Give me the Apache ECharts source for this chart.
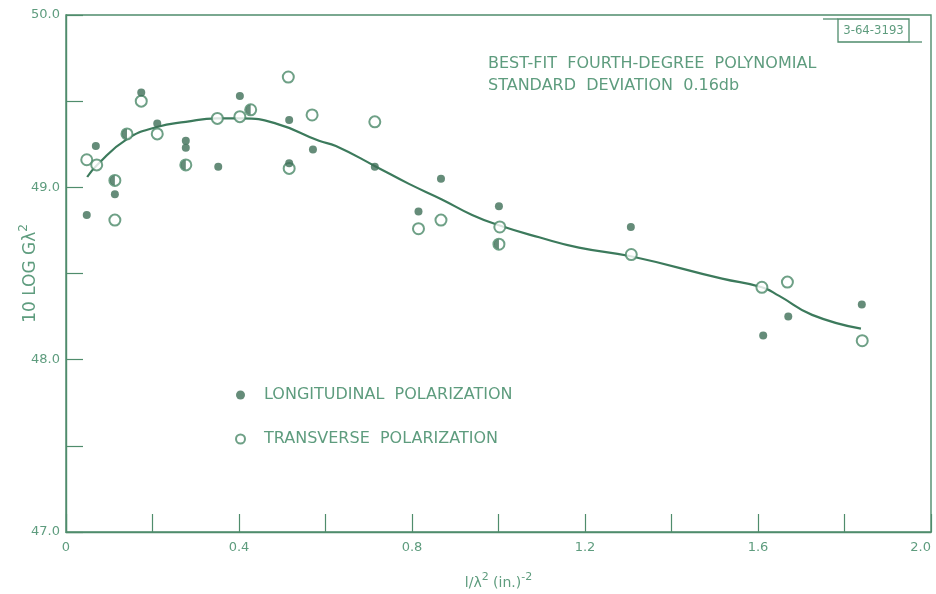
<!DOCTYPE html>
<html>
<head>
<meta charset="utf-8">
<script src="https://cdn.jsdelivr.net/npm/echarts@6/dist/echarts.min.js"></script>
<style>
html,body{margin:0;padding:0;background:#fff;}
#chart{width:936px;height:594px;}
</style>
</head>
<body>
<div id="chart"></div>
<script>
// ---- data ----
const longitudinal = [
  [0.048,48.84],[0.069,49.24],[0.113,48.96],[0.174,49.55],[0.211,49.37],
  [0.277,49.27],[0.277,49.23],[0.352,49.12],[0.402,49.53],[0.516,49.39],
  [0.516,49.14],[0.571,49.22],[0.714,49.12],[0.815,48.86],[0.867,49.05],
  [1.001,48.89],[1.306,48.77],[1.612,48.14],[1.670,48.25],[1.840,48.32]
];
const transverse = [
  [0.048,49.16],[0.071,49.13],[0.113,48.81],[0.174,49.50],[0.211,49.31],
  [0.350,49.40],[0.402,49.41],[0.514,49.64],[0.516,49.11],[0.569,49.42],
  [0.714,49.38],[0.815,48.76],[0.867,48.81],[1.003,48.77],[1.307,48.61],
  [1.609,48.42],[1.668,48.45],[1.841,48.11]
];
// points where both polarizations coincide (half-filled markers)
const coincident = [
  [0.113,49.04],[0.141,49.31],[0.277,49.13],[0.427,49.45],[1.001,48.67]
];
// best-fit fourth-degree polynomial
const fitCurve = [
  [0.049,49.06],[0.072,49.13],[0.141,49.28],[0.210,49.35],[0.277,49.38],
  [0.349,49.40],[0.405,49.40],[0.486,49.37],[0.585,49.27],[0.624,49.24],
  [0.717,49.12],[0.793,49.02],[0.869,48.93],[0.939,48.84],[1.001,48.78],
  [1.094,48.71],[1.186,48.65],[1.306,48.60],[1.517,48.47],[1.609,48.42],
  [1.649,48.37],[1.725,48.26],[1.838,48.18]
];
const xTickLabels = ['0','0.4','0.8','1.2','1.6','2.0'];
const yTickLabels = ['47.0','48.0','49.0','50.0'];
const seriesNames = ['LONGITUDINAL  POLARIZATION','TRANSVERSE  POLARIZATION'];

// ---- styling ----
const AXIS = '#4f8c6c';
const TEXT = '#5e9c7e';
const DOT = '#3f6f58';
const FONT = 'DejaVu Sans';

const chart = echarts.init(document.getElementById('chart'), null, {renderer:'canvas'});
chart.setOption({
  backgroundColor:'#ffffff',
  animation:false,
  grid:{left:66,right:5,top:15,bottom:62,show:true,borderColor:AXIS,borderWidth:1.4,
    backgroundColor:'transparent',containLabel:false,outerBoundsMode:'none'},
  xAxis:{
    type:'value',min:0,max:2.0,interval:0.2,
    name:'l/λ{sup|2} (in.){sup|-2}',nameLocation:'middle',nameGap:40,nameMoveOverlap:false,
    nameTextStyle:{color:TEXT,fontFamily:FONT,fontSize:14,
      rich:{sup:{fontSize:11,verticalAlign:'bottom',padding:[0,0,12,0],color:TEXT,fontFamily:FONT}}},
    axisLine:{lineStyle:{color:AXIS,width:1.4}},
    axisTick:{inside:true,length:18,lineStyle:{color:AXIS,width:1.2}},
    splitLine:{show:false},
    axisLabel:{color:TEXT,fontFamily:FONT,fontSize:13,margin:9,alignMaxLabel:'right',
      formatter:function(v){const s=(Math.round(v*10)/10); const lbl = s===0?'0':s.toFixed(1); return xTickLabels.indexOf(lbl)>=0?lbl:'';}}
  },
  yAxis:{
    type:'value',min:47,max:50,interval:0.5,
    name:'10 LOG Gλ{sup|2}',nameLocation:'middle',nameGap:23,nameRotate:90,nameMoveOverlap:false,
    nameTextStyle:{color:TEXT,fontFamily:FONT,fontSize:17,
      rich:{sup:{fontSize:12,verticalAlign:'bottom',padding:[0,0,13,0],color:TEXT,fontFamily:FONT}}},
    axisLine:{show:true,lineStyle:{color:AXIS,width:1.4}},
    axisTick:{show:true,inside:true,length:17,lineStyle:{color:AXIS,width:1.2}},
    splitLine:{show:false},
    axisLabel:{color:TEXT,fontFamily:FONT,fontSize:13,margin:6,
      formatter:function(v){const lbl=v.toFixed(1); return yTickLabels.indexOf(lbl)>=0?lbl:'';}}
  },
  legend:{
    data:[{name:seriesNames[0],icon:'circle'},{name:seriesNames[1],icon:'emptyCircle'}],
    orient:'vertical',left:235,top:387,padding:0,itemWidth:9,itemHeight:9,itemGap:28,
    selectedMode:false,
    textStyle:{color:TEXT,fontFamily:FONT,fontSize:16,padding:[0,0,0,14]}
  },
  graphic:[
    {type:'text',left:488,top:56,style:{text:'BEST-FIT  FOURTH-DEGREE  POLYNOMIAL',fill:TEXT,font:'16px "DejaVu Sans"'}},
    {type:'text',left:488,top:78,style:{text:'STANDARD  DEVIATION  0.16db',fill:TEXT,font:'16px "DejaVu Sans"'}},
    {type:'rect',shape:{x:838,y:19,width:71,height:23},style:{fill:'#fff',stroke:AXIS,lineWidth:1.3}},
    {type:'line',shape:{x1:823,y1:19,x2:838,y2:19},style:{stroke:AXIS,lineWidth:1.3}},
    {type:'line',shape:{x1:909,y1:42,x2:922,y2:42},style:{stroke:AXIS,lineWidth:1.3}},
    {type:'text',x:873.5,y:30.5,style:{text:'3-64-3193',fill:TEXT,font:'13px "DejaVu Sans Condensed"',align:'center',verticalAlign:'middle'}}
  ],
  series:[
    {name:'fit',type:'line',data:fitCurve,smooth:0.5,showSymbol:false,symbol:'none',
      lineStyle:{color:'#3c7a5c',width:2.2},z:2,silent:true},
    {name:seriesNames[0],type:'scatter',data:longitudinal,symbol:'circle',symbolSize:8,
      itemStyle:{color:DOT},z:4},
    {name:seriesNames[1],type:'scatter',data:transverse,symbol:'emptyCircle',symbolSize:11,
      itemStyle:{color:'#4a8868',borderWidth:1.5},z:3},
    {name:'coincident-open',type:'scatter',data:coincident,symbol:'emptyCircle',symbolSize:11,
      itemStyle:{color:'#4a8868',borderWidth:1.5},z:3},
    {name:'coincident-half',type:'scatter',data:coincident,
      symbol:'path://M10,0 A10,10 0 0,0 10,20 Z M20,10 L19.99,10 Z',symbolSize:10,
      itemStyle:{color:DOT},z:5}
  ]
});
</script>
</body>
</html>
